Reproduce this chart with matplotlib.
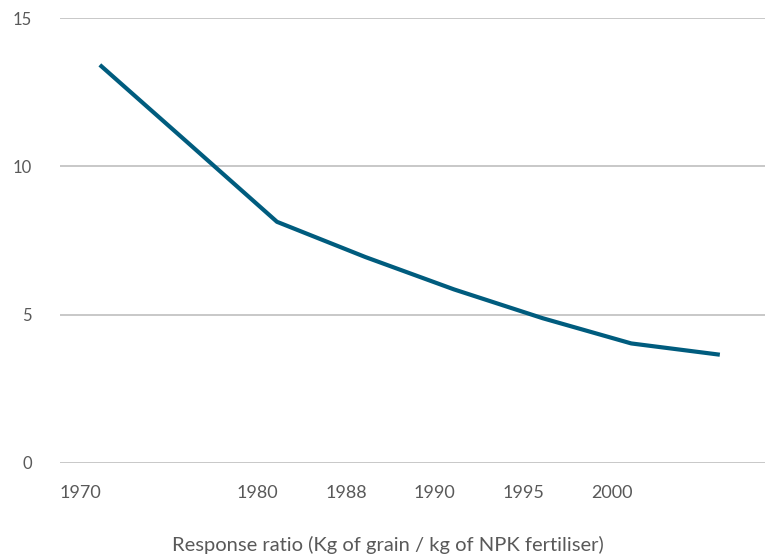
import numpy as np
import matplotlib
matplotlib.use("Agg")
import matplotlib.pyplot as plt

plt.rcParams['font.family'] = ['Lato', 'DejaVu Sans']

# data
categories = ['1970', '', '1980', '1988', '1990', '1995', '2000', '']
ratio = [13.42, 10.78, 8.13, 6.94, 5.85, 4.88, 4.03, 3.65]
yticks = [0, 5, 10, 15]

fig = plt.figure(figsize=(7.65, 5.56), dpi=100)
ax = fig.add_axes([0.0784, 0.1673, 0.9216, 0.8003])

x = np.arange(len(ratio))
ax.plot(x, ratio, color='#005c7e', lw=3.0, solid_capstyle='butt', zorder=3)

ax.set_ylim(0, 15)
ax.set_xlim(-0.45, 7.51)
ax.set_yticks(yticks)
ax.yaxis.grid(True, color='#bfbfbf', lw=1.2)
ax.set_axisbelow(True)

# tick labels in the reference sit slightly left of the data points
ax.set_xticks(x - 0.22)
ax.set_xticklabels(categories)

for s in ax.spines.values():
    s.set_visible(False)
ax.tick_params(axis='both', length=0, labelsize=12, labelcolor='#595959')
ax.tick_params(axis='x', labelsize=13, pad=16)
ax.tick_params(axis='y', pad=20)

ax.set_xlabel('Response ratio (Kg of grain / kg of NPK fertiliser)',
              fontsize=14.5, color='#595959')
ax.xaxis.set_label_coords(0.4645, -0.165)

fig.savefig('out.png', dpi=100)
